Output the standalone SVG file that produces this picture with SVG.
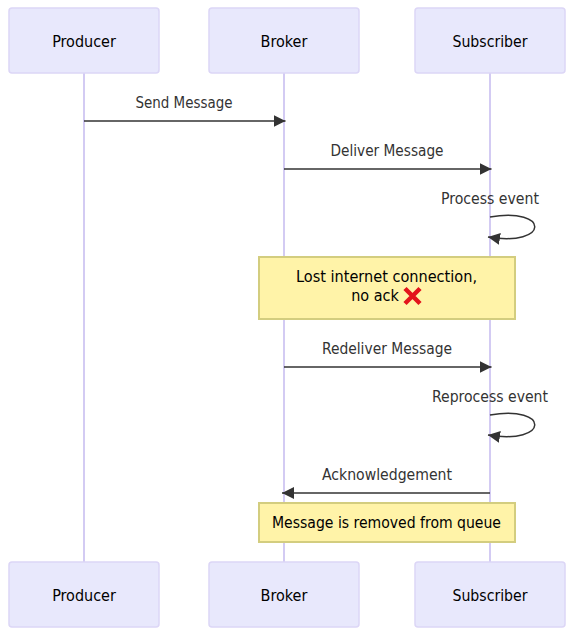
<svg xmlns="http://www.w3.org/2000/svg" width="576" height="638" viewBox="0 0 576 638">
<style>
text{font-family:"DejaVu Sans Condensed","DejaVu Sans",sans-serif;font-size:16px;text-anchor:middle}
.actor{fill:#E8E8FC;stroke:#DCD6F6;stroke-width:1.5}
.life{stroke:#D3CBF3;stroke-width:2;fill:none}
.msg{stroke:#333;stroke-width:1.5;fill:none}
.note{fill:#FFF3A8;stroke:#D3CD7F;stroke-width:2}
.lab{fill:#333}
.t{fill:#000}
</style>
<defs>
<marker id="arrow" markerUnits="userSpaceOnUse" markerWidth="12" markerHeight="12" refX="10" refY="5" orient="auto" viewBox="0 0 10 10"><path d="M0 0L10 5L0 10z" fill="#333"/></marker>
</defs>
<g id="lifelines">
<line class="life" x1="84" y1="73" x2="84" y2="562"/>
<line class="life" x1="284" y1="73" x2="284" y2="562"/>
<line class="life" x1="490" y1="73" x2="490" y2="562"/>
</g>
<g id="connectors">
<line class="msg" x1="84" y1="121" x2="285.500" y2="121" marker-end="url(#arrow)"/>
<text class="lab" x="184" y="108" textLength="97" lengthAdjust="spacingAndGlyphs">Send Message</text>
<line class="msg" x1="284" y1="169" x2="491.500" y2="169" marker-end="url(#arrow)"/>
<text class="lab" x="387" y="156" textLength="113" lengthAdjust="spacingAndGlyphs">Deliver Message</text>
<path class="msg" d="M490 217C550 207 550 247 488 237" marker-end="url(#arrow)"/>
<text class="lab" x="490" y="204" textLength="98" lengthAdjust="spacingAndGlyphs">Process event</text>
<line class="msg" x1="284" y1="367" x2="491.500" y2="367" marker-end="url(#arrow)"/>
<text class="lab" x="387" y="354" textLength="130" lengthAdjust="spacingAndGlyphs">Redeliver Message</text>
<path class="msg" d="M490 415C550 405 550 445 488 435" marker-end="url(#arrow)"/>
<text class="lab" x="490" y="402" textLength="116" lengthAdjust="spacingAndGlyphs">Reprocess event</text>
<line class="msg" x1="490" y1="493" x2="282" y2="493" marker-end="url(#arrow)"/>
<text class="lab" x="387" y="480" textLength="130" lengthAdjust="spacingAndGlyphs">Acknowledgement</text>
</g>
<g id="note-lost">
<rect class="note" x="259" y="257" width="256" height="62"/>
<text class="t" x="386.500" y="282" textLength="181" lengthAdjust="spacingAndGlyphs">Lost internet connection,</text>
<text class="t" x="375" y="301">no ack</text>
<path d="M405 288.500L420 303.500M420 288.500L405 303.500" stroke="#E3141C" stroke-width="4.500" fill="none"/>
</g>
<g id="note-removed">
<rect class="note" x="259" y="503" width="256" height="39"/>
<text class="t" x="386.500" y="528" textLength="229" lengthAdjust="spacingAndGlyphs">Message is removed from queue</text>
</g>
<g id="producer-top"><rect class="actor" x="9" y="8" width="150" height="65" rx="3"/><text class="t" x="84" y="47">Producer</text></g>
<g id="broker-top"><rect class="actor" x="209" y="8" width="150" height="65" rx="3"/><text class="t" x="284" y="47">Broker</text></g>
<g id="subscriber-top"><rect class="actor" x="415" y="8" width="150" height="65" rx="3"/><text class="t" x="490" y="47" textLength="75" lengthAdjust="spacingAndGlyphs">Subscriber</text></g>
<g id="producer-bottom"><rect class="actor" x="9" y="562" width="150" height="65" rx="3"/><text class="t" x="84" y="601">Producer</text></g>
<g id="broker-bottom"><rect class="actor" x="209" y="562" width="150" height="65" rx="3"/><text class="t" x="284" y="601">Broker</text></g>
<g id="subscriber-bottom"><rect class="actor" x="415" y="562" width="150" height="65" rx="3"/><text class="t" x="490" y="601" textLength="75" lengthAdjust="spacingAndGlyphs">Subscriber</text></g>
</svg>
